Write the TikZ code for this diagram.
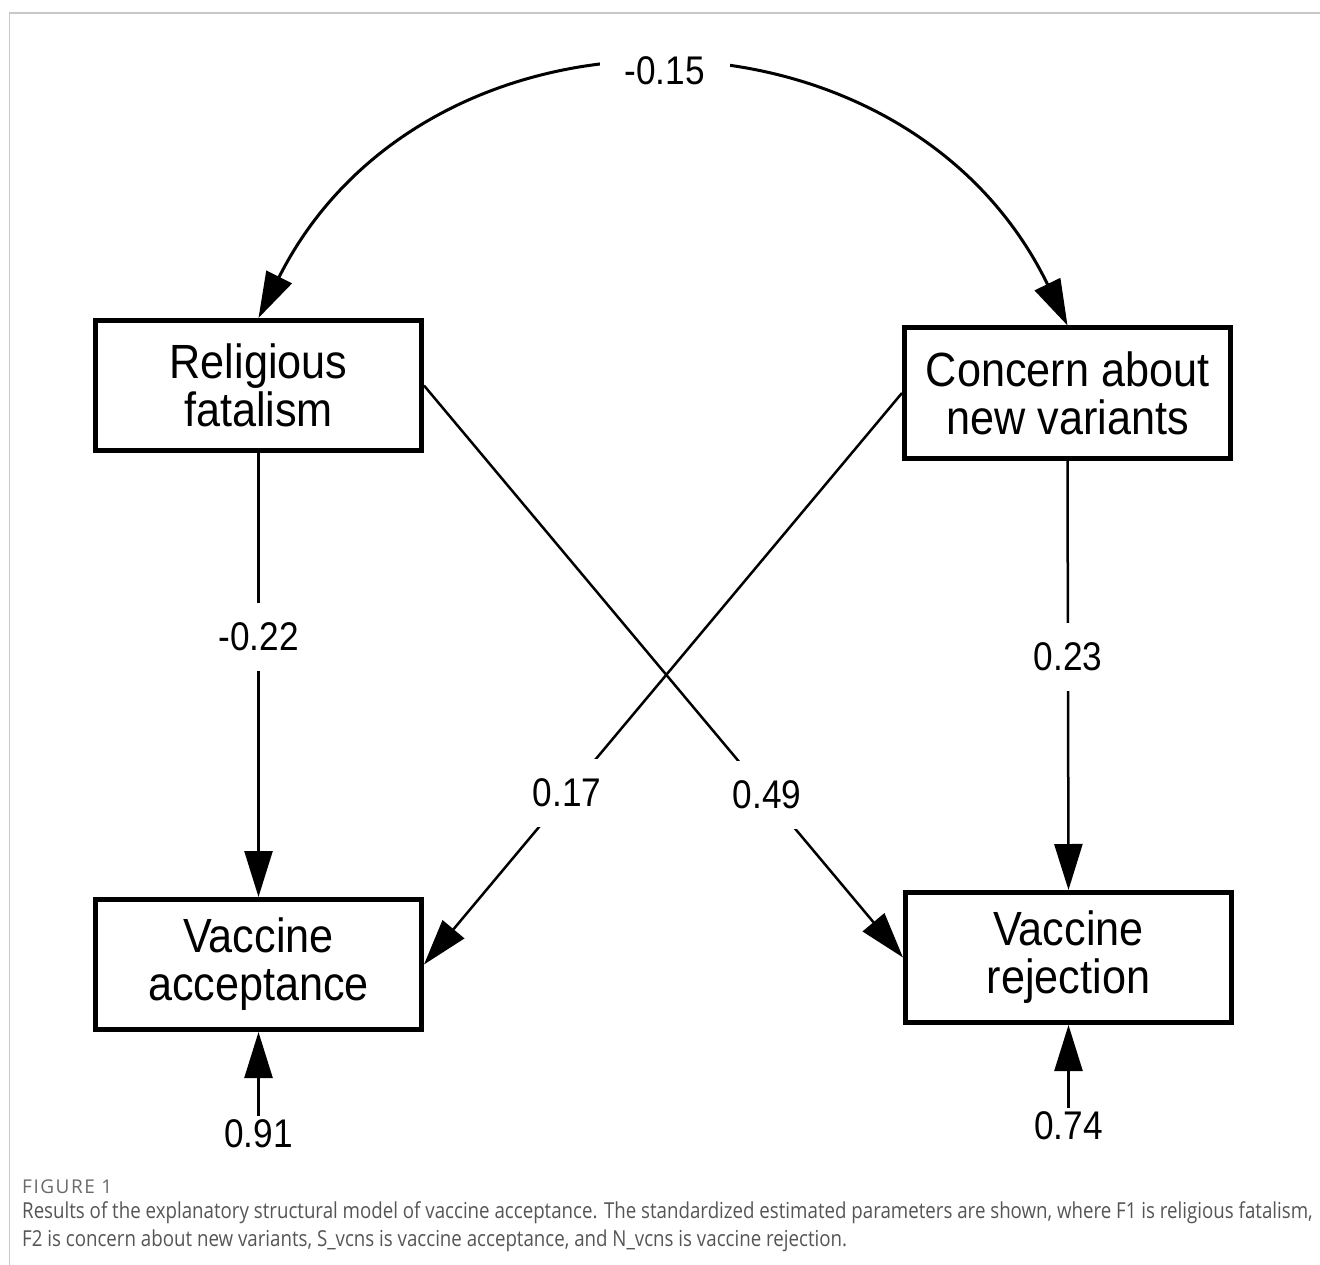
\documentclass[tikz,border=0pt]{standalone}
\usepackage{graphicx}
\usepackage{fontspec}
\setmainfont{Liberation Sans}
\newfontfamily\capfont{Open Sans}
\newfontfamily\figfont[LetterSpace=8]{Open Sans}
\usetikzlibrary{arrows.meta}
\definecolor{capgray}{HTML}{555555}
\definecolor{figgray}{HTML}{6A6A6A}
\definecolor{framegray}{HTML}{C8C8C8}
\newcommand{\boxsq}[1]{\scalebox{0.9}[1]{#1}}
\newcommand{\lblsq}[1]{\scalebox{0.88}[1]{#1}}
\newcommand{\capsq}[1]{\scalebox{0.85}[1]{#1}}
\begin{document}
\begin{tikzpicture}[x=1pt,y=1pt,
  box/.style={draw, line width=5pt, minimum width=326pt, minimum height=130pt,
    align=center, inner sep=0pt, font=\fontsize{48}{48}\selectfont},
  tipT/.style={-{Triangle[length=46pt,width=28pt]}},
  conn/.style={line width=2.5pt, tipT},
  lbl/.style={fill=white, inner xsep=25pt, inner ysep=20pt, font=\fontsize{40}{44}\selectfont},
  errlbl/.style={inner sep=3pt, font=\fontsize{40}{44}\selectfont},
]
\useasboundingbox (0,0) rectangle (1320,-1265);
\draw[framegray, line width=1.5pt] (9.5,-1265) -- (9.5,-13) -- (1320,-13);

\node[box] (rf) at (258.5,-385.5) {\boxsq{Religious}\\\boxsq{fatalism}};
\node[box] (cn) at (1067.5,-393) {\boxsq{Concern about}\\\boxsq{new variants}};
\node[box] (va) at (258.5,-964.5) {\boxsq{Vaccine}\\\boxsq{acceptance}};
\node[box] (vr) at (1068.5,-957.5) {\boxsq{Vaccine}\\\boxsq{rejection}};

% covariance arc
\draw[line width=3pt, {Triangle[length=46pt,width=28pt]}-{Triangle[length=46pt,width=28pt]}]
  (rf.north) to[out=63.3, in=115.9, looseness=1.18]
  node[pos=0.5, lbl] (l15) {\lblsq{-0.15}} (cn.north);

% paths
\draw[conn] (rf.south) -- (va.north);
\draw[conn] (cn.south) -- (vr.north);
\draw[conn] (rf.east) -- (vr.west);
\draw[conn] (cn.west) -- (va.east);

\node[lbl] (l22) at (258.5,-637) {\lblsq{-0.22}};
\node[lbl] (l23) at (1068,-657) {\lblsq{0.23}};
\node[lbl] (l17) at (567,-793) {\lblsq{0.17}};
\node[lbl] (l49) at (767,-795) {\lblsq{0.49}};

% error terms
\node[errlbl, anchor=north] (e1) at (258.5,-1116) {\lblsq{0.91}};
\node[errlbl, anchor=north] (e2) at (1068.5,-1108) {\lblsq{0.74}};
\draw[conn] (e1.north) -- (va.south);
\draw[conn] (e2.north) -- (vr.south);

% caption
\node[anchor=base west, inner sep=0pt, text=figgray, font=\figfont\fontsize{19}{20}\selectfont] (fig) at (22,-1193) {FIGURE 1};
\node[anchor=north west, inner sep=0pt, align=left, text=capgray, font=\capfont\fontsize{22}{28}\selectfont] (cap) at (22,-1201)
  {\capsq{Results of the explanatory structural model of vaccine acceptance. The standardized estimated parameters are shown, where F1 is religious fatalism,}\\
   \capsq{F2 is concern about new variants, S\_vcns is vaccine acceptance, and N\_vcns is vaccine rejection.}};
\end{tikzpicture}
\end{document}
